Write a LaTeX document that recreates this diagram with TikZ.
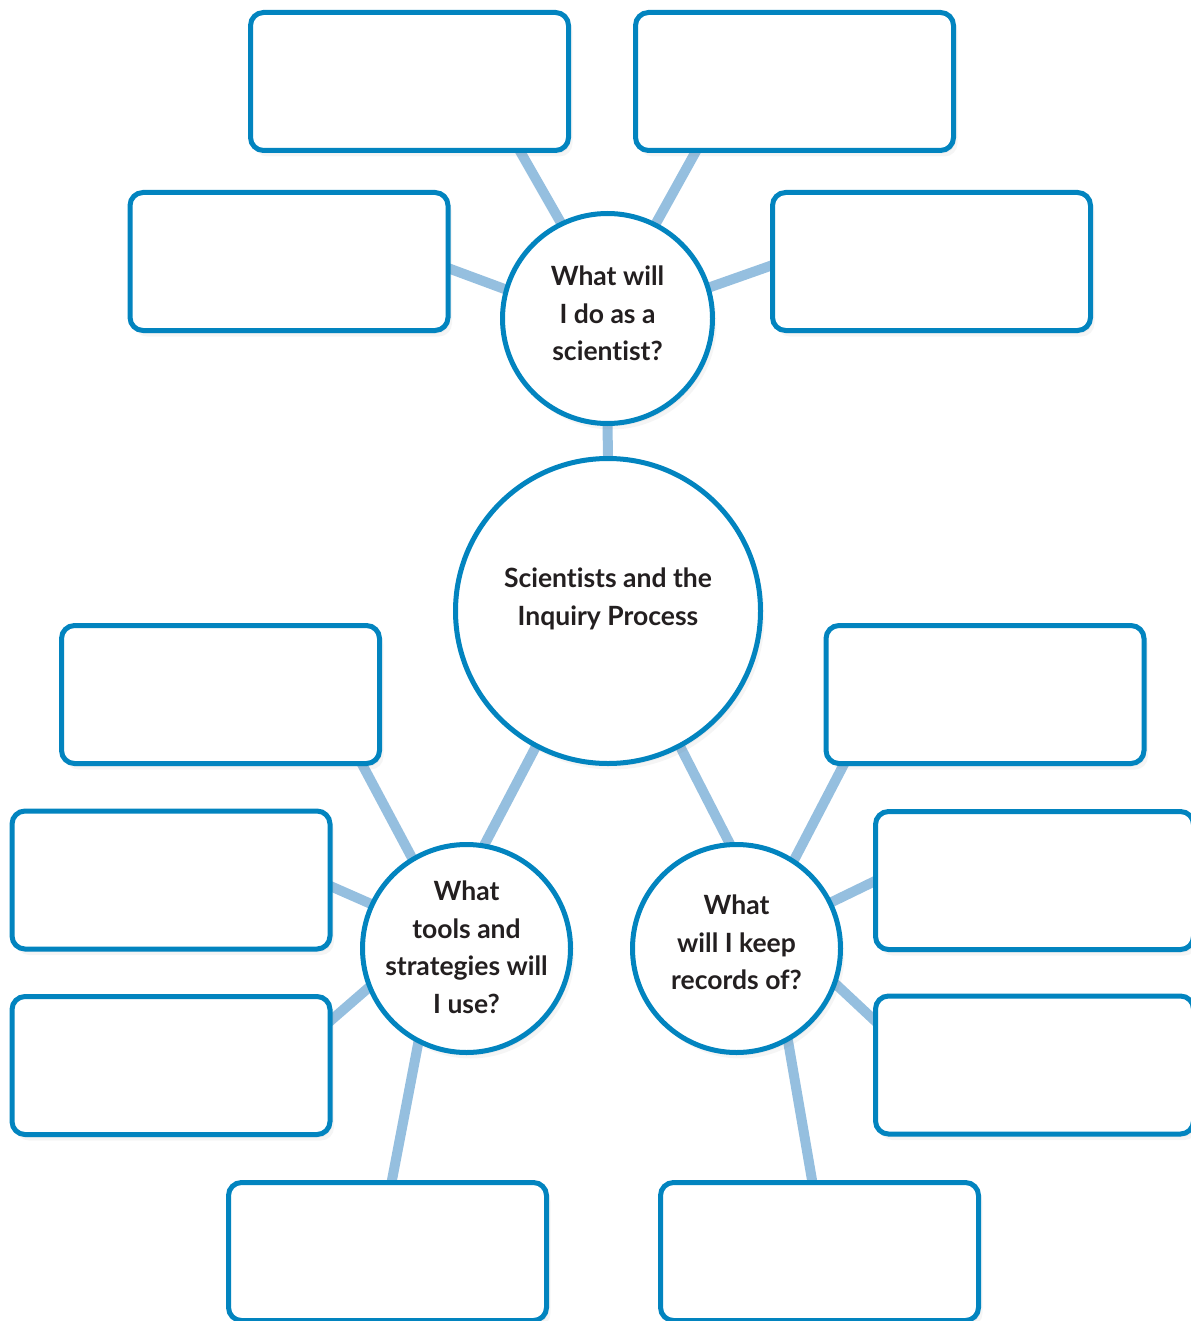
\documentclass[tikz,border=0pt]{standalone}
\usepackage{fontspec}
\setmainfont{Lato}[Ligatures=NoCommon]
\usetikzlibrary{shadows,backgrounds}

\definecolor{ringblue}{HTML}{0284BF}
\definecolor{linkblue}{HTML}{95BFDF}
\definecolor{inkgray}{HTML}{231F20}

\begin{document}
\begin{tikzpicture}[x=1pt,y=-1pt,
  bubble/.style={circle, draw=ringblue, line width=5pt, fill=white, inner sep=0pt,
    drop shadow={opacity=0.08, shadow xshift=2pt, shadow yshift=-3pt},
    drop shadow={opacity=0.08, shadow xshift=4pt, shadow yshift=-6pt}},
  qtext/.style={align=center, text=inkgray, font=\bfseries\fontsize{26.5}{37.5}\selectfont},
  answer/.style={rectangle, rounded corners=13pt, draw=ringblue, line width=5pt,
    fill=white, minimum width=318pt, minimum height=138pt,
    drop shadow={opacity=0.08, shadow xshift=2pt, shadow yshift=-3pt},
    drop shadow={opacity=0.08, shadow xshift=4pt, shadow yshift=-6pt}},
  link/.style={draw=linkblue, line width=10pt, shorten <=-6pt, shorten >=-6pt}]

  \useasboundingbox (0,0) rectangle (1190,1321);

  % the four circles
  \node[bubble, minimum size=305pt,
    label={[qtext, yshift=12pt]center:Scientists and the\\Inquiry Process}]
    (core) at (608,611) {};
  \node[bubble, minimum size=210pt,
    label={[qtext, yshift=5pt]center:What will\\I do as a\\scientist?}]
    (doing) at (607.5,318.5) {};
  \node[bubble, minimum size=208pt,
    label={[qtext, yshift=1pt]center:What\\tools and\\strategies will\\I use?}]
    (tools) at (466.5,948.5) {};
  \node[bubble, minimum size=208pt,
    label={[qtext, yshift=6pt]center:What\\will I keep\\records of?}]
    (records) at (736.5,948.5) {};

  % boxes round the top circle
  \node[answer] (doA) at (409.5,81.5) {};
  \node[answer] (doB) at (794.5,81.5) {};
  \node[answer] (doC) at (289,261.5) {};
  \node[answer] (doD) at (931.5,261.5) {};

  % boxes on the left
  \node[answer] (toolA) at (220.5,694.5) {};
  \node[answer] (toolB) at (171,880) {};
  \node[answer] (toolC) at (171,1065.5) {};
  \node[answer] (toolD) at (387.5,1251.5) {};

  % boxes on the right
  \node[answer] (recA) at (985,694.5) {};
  \node[answer] (recB) at (1034.5,880.5) {};
  \node[answer] (recC) at (1034.5,1065) {};
  \node[answer] (recD) at (819.5,1251.5) {};

  % connectors behind everything
  \begin{pgfonlayer}{background}
    \draw[link] (doing.116) -- ([xshift=111.5pt]doA.south);
    \draw[link] (doing.63) -- ([xshift=-99.5pt]doB.south);
    \draw[link] (doing.164) -- ([yshift=-7.5pt]doC.east);
    \draw[link] (doing.17) -- ([yshift=-4.5pt]doD.west);
    \draw[link] (doing.south) -- (core.north);

    \draw[link] (core.242) -- (tools.80);
    \draw[link] (core.298) -- (records.94);

    \draw[link] (tools.121) -- ([xshift=142.5pt]toolA.south);
    \draw[link] (tools.155) -- ([yshift=-7pt]toolB.east);
    \draw[link] (tools.202) -- ([yshift=46.5pt]toolC.east);
    \draw[link] (tools.243) -- ([xshift=4.5pt]toolD.north);

    \draw[link] (records.57) -- ([xshift=-142pt]recA.south);
    \draw[link] (records.26) -- ([yshift=-1.5pt]recB.west);
    \draw[link] (records.-20) -- ([yshift=46pt]recC.west);
    \draw[link] (records.-61) -- ([xshift=-7.5pt]recD.north);
  \end{pgfonlayer}
\end{tikzpicture}
\end{document}
